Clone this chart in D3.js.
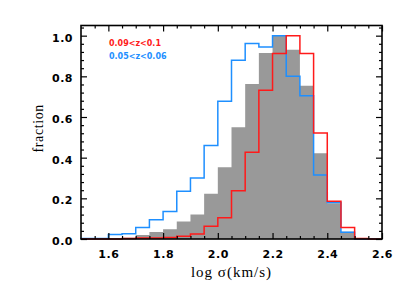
<!DOCTYPE html>
<html>
<head>
<meta charset="utf-8">
<script src="https://cdn.jsdelivr.net/npm/d3@7"></script>
<style>
  body { margin: 0; background: #fff; }
  svg { display: block; }
</style>
</head>
<body>
<div class="container"></div>
<script>
// bin left edges of log sigma, width 0.05
var binEdges = [1.50, 1.55, 1.60, 1.65, 1.70, 1.75, 1.80, 1.85, 1.90, 1.95, 2.00,
                2.05, 2.10, 2.15, 2.20, 2.25, 2.30, 2.35, 2.40, 2.45, 2.50, 2.55];
var binWidth = 0.05;

// filled grey histogram
var grayValues = [0, 0, 0.002, 0.006, 0.02, 0.034, 0.048, 0.086, 0.12, 0.222, 0.353,
                  0.549, 0.762, 0.915, 1.0, 0.931, 0.754, 0.422, 0.176, 0.036, 0, 0];
// 0.05<z<0.06
var blueValues = [0.003, 0.003, 0.022, 0.026, 0.057, 0.095, 0.135, 0.235, 0.30, 0.46, 0.677,
                  0.879, 0.961, 0.944, 1.0, 0.80, 0.705, 0.315, 0.18, 0.033, 0, 0];
// 0.09<z<0.1
var redValues = [0, 0, 0, 0.003, 0.005, 0.005, 0.007, 0.014, 0.025, 0.063, 0.105,
                 0.237, 0.427, 0.731, 0.912, 1.0, 0.912, 0.521, 0.186, 0.057, 0.002, 0];

var xTicks = [1.6, 1.8, 2.0, 2.2, 2.4, 2.6];
var yTicks = [0.0, 0.2, 0.4, 0.6, 0.8, 1.0];
var legendLabels = ["0.09<z<0.1", "0.05<z<0.06"];

var svgWidth = 407;
var svgHeight = 291;
var margin = { top: 25.5, right: 25, bottom: 52, left: 81 };
var width = svgWidth - margin.left - margin.right;
var height = svgHeight - margin.top - margin.bottom;

var red = "#ff1a1a";
var blue = "#1e8fff";

var svg = d3.select(".container")
  .append("svg")
  .attr("width", svgWidth)
  .attr("height", svgHeight);

var chartGroup = svg.append("g")
  .attr("transform", `translate(${margin.left}, ${margin.top})`);

var xScale = d3.scaleLinear().domain([1.5, 2.6]).range([0, width]);
var yScale = d3.scaleLinear().domain([0, 1.05]).range([height, 0]);

// step outline (histogram style) from bin values
function stepPoints(values) {
  var pts = [[binEdges[0], 0]];
  values.forEach(function(v, i) {
    pts.push([binEdges[i], v]);
    pts.push([binEdges[i] + binWidth, v]);
  });
  pts.push([binEdges[binEdges.length - 1] + binWidth, 0]);
  return pts;
}

var stepLine = d3.line()
  .x(d => xScale(d[0]))
  .y(d => yScale(d[1]));

var stepArea = d3.area()
  .x(d => xScale(d[0]))
  .y0(yScale(0))
  .y1(d => yScale(d[1]));

chartGroup.append("path")
  .attr("d", stepArea(stepPoints(grayValues)))
  .attr("fill", "#999999")
  .attr("stroke", "none");

chartGroup.append("path")
  .attr("d", stepLine(stepPoints(blueValues)))
  .attr("fill", "none")
  .attr("stroke", blue)
  .attr("stroke-width", 1.5);

chartGroup.append("path")
  .attr("d", stepLine(stepPoints(redValues)))
  .attr("fill", "none")
  .attr("stroke", red)
  .attr("stroke-width", 1.5);

// axes: ticks point inward, minor ticks between
var xMinor = d3.range(1.55, 2.6, 0.05).filter(v => Math.abs(v * 5 - Math.round(v * 5)) > 1e-6);
var yMinor = d3.range(0.04, 1.05, 0.04).filter(v => Math.abs(v * 5 - Math.round(v * 5)) > 1e-6);

function addAxis(axis, transform, cls) {
  var g = chartGroup.append("g")
    .attr("class", cls)
    .attr("transform", transform)
    .call(axis);
  g.select(".domain").remove();
  g.selectAll("line").attr("stroke", "#000").attr("stroke-width", 1.2);
  return g;
}

var major = 6, minor = 3;
var bottomAxis = d3.axisBottom(xScale).tickValues(xTicks).tickSizeInner(-major).tickSizeOuter(0)
  .tickPadding(11).tickFormat(d3.format(".1f"));
var bottomG = addAxis(bottomAxis, `translate(0, ${height})`, "xaxis");
addAxis(d3.axisBottom(xScale).tickValues(xMinor).tickSize(-minor).tickFormat(""), `translate(0, ${height})`, "xminor");
addAxis(d3.axisTop(xScale).tickValues(xTicks).tickSize(-major).tickFormat(""), "translate(0, 0)", "xtop");
addAxis(d3.axisTop(xScale).tickValues(xMinor).tickSize(-minor).tickFormat(""), "translate(0, 0)", "xtopminor");

var leftAxis = d3.axisLeft(yScale).tickValues(yTicks).tickSizeInner(-major).tickSizeOuter(0)
  .tickPadding(8).tickFormat(d3.format(".1f"));
var leftG = addAxis(leftAxis, "translate(0, 0)", "yaxis");
addAxis(d3.axisLeft(yScale).tickValues(yMinor).tickSize(-minor).tickFormat(""), "translate(0, 0)", "yminor");
addAxis(d3.axisRight(yScale).tickValues(yTicks).tickSize(-major).tickFormat(""), `translate(${width}, 0)`, "yright");
addAxis(d3.axisRight(yScale).tickValues(yMinor).tickSize(-minor).tickFormat(""), `translate(${width}, 0)`, "yrightminor");

[bottomG, leftG].forEach(function(g) {
  g.selectAll("text")
    .attr("font-family", "DejaVu Sans")
    .attr("font-weight", "bold")
    .attr("font-size", "11px")
    .attr("letter-spacing", "0.5px")
    .attr("fill", "#000");
});
leftG.selectAll("text").attr("dy", "0.5em");

// plot frame
chartGroup.append("rect")
  .attr("x", 0)
  .attr("y", 0)
  .attr("width", width)
  .attr("height", height)
  .attr("fill", "none")
  .attr("stroke", "#000")
  .attr("stroke-width", 1.6);

// legend
var legendColors = [red, blue];
chartGroup.selectAll(".legend")
  .data(legendLabels)
  .enter()
  .append("text")
  .attr("class", "legend")
  .attr("x", 28)
  .attr("y", (d, i) => 20.5 + i * 13)
  .attr("font-family", "DejaVu Sans")
  .attr("font-weight", "bold")
  .attr("font-size", "8px")
  .attr("fill", (d, i) => legendColors[i])
  .text(d => d);

// axis labels
svg.append("text")
  .attr("x", margin.left + width / 2)
  .attr("y", 277)
  .attr("text-anchor", "middle")
  .attr("font-family", "Liberation Serif")
  .attr("font-size", "15px")
  .attr("letter-spacing", "1px")
  .text("log σ(km/s)");

svg.append("text")
  .attr("transform", `translate(43, ${margin.top + height / 2 - 4}) rotate(-90)`)
  .attr("text-anchor", "middle")
  .attr("font-family", "Liberation Serif")
  .attr("font-size", "14px")
  .attr("letter-spacing", "0.6px")
  .text("fraction");
</script>
</body>
</html>
